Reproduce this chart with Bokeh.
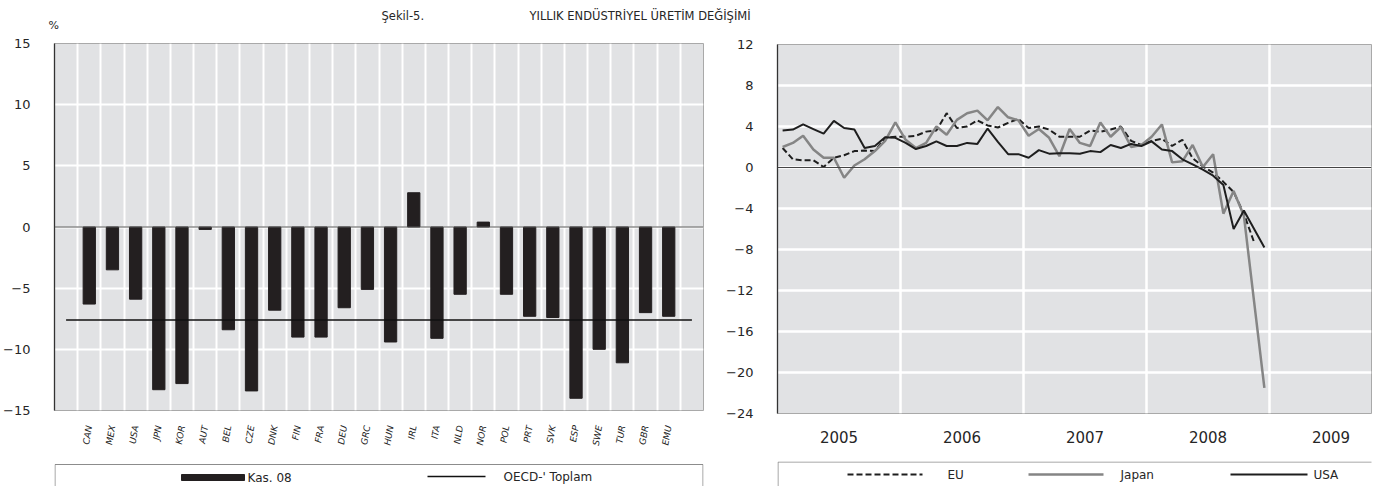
from bokeh.plotting import figure
from bokeh.layouts import column, row
from bokeh.models import Range1d, FixedTicker, Span, Label
from bokeh.core.properties import value
from bokeh.embed import file_html
from bokeh.resources import INLINE

# ---------------- data ----------------
countries = ["CAN", "MEX", "USA", "JPN", "KOR", "AUT", "BEL", "CZE", "DNK", "FIN",
             "FRA", "DEU", "GRC", "HUN", "IRL", "ITA", "NLD", "NOR", "POL", "PRT",
             "SVK", "ESP", "SWE", "TUR", "GBR", "EMU"]
nov08 = [-6.3, -3.5, -5.9, -13.3, -12.8, -0.2, -8.4, -13.4, -6.8, -9.0,
         -9.0, -6.6, -5.1, -9.4, 2.8, -9.1, -5.5, 0.4, -5.5, -7.3,
         -7.4, -14.0, -10.0, -11.1, -7.0, -7.3]
oecd_total = -7.6

years = [2005, 2006, 2007, 2008, 2009]
start_year = 2005
usa = [3.6, 3.7, 4.2, 3.75, 3.3, 4.55, 3.85, 3.7, 1.9, 2.1,
       2.95, 2.9, 2.4, 1.8, 2.1, 2.55, 2.1, 2.1, 2.4, 2.3,
       3.8, 2.5, 1.3, 1.3, 0.95, 1.7, 1.35, 1.4, 1.4, 1.35,
       1.6, 1.5, 2.2, 1.9, 2.3, 2.1, 2.55, 1.75, 1.6, 0.8,
       0.3, -0.2, -0.8, -1.7, -6.0, -4.2, -6.0, -7.8]
japan = [2.0, 2.4, 3.1, 1.75, 0.95, 0.95, -1.0, 0.2, 0.8, 1.6,
         2.6, 4.4, 2.7, 1.9, 2.4, 4.0, 3.2, 4.65, 5.3, 5.55,
         4.6, 5.9, 4.9, 4.6, 3.1, 3.75, 2.9, 1.1, 3.75, 2.4,
         2.1, 4.4, 3.0, 3.95, 2.0, 2.2, 3.0, 4.2, 0.5, 0.6,
         2.2, 0.05, 1.3, -4.5, -2.3, -4.7, -13.1, -21.5]
eu = [1.9, 0.8, 0.7, 0.7, 0.05, 0.95, 1.2, 1.6, 1.65, 1.6,
      2.9, 3.0, 3.0, 3.1, 3.5, 3.6, 5.3, 3.85, 4.0, 4.6,
      4.1, 3.9, 4.35, 4.75, 3.85, 4.0, 3.7, 3.0, 3.0, 3.0,
      3.6, 3.5, 3.7, 4.0, 2.6, 2.2, 2.6, 2.8, 2.1, 2.7,
      0.9, 0.1, -0.5, -1.4, -2.4, -4.5, -7.3]

left_yticks = [-15, -10, -5, 0, 5, 10, 15]
right_yticks = [-24, -20, -16, -12, -8, -4, 0, 4, 8, 12]

title_left = "Şekil-5."
title_main = "YILLIK ENDÜSTRİYEL ÜRETİM DEĞİŞİMİ"

# ---------------- style ----------------
FONT = "DejaVu Sans"
BG = "#e1e2e4"
BORDER = "#a9a9a9"
TXT = "#262626"


def month_x(n):
    return [start_year + (i + 0.5) / 12.0 for i in range(n)]


def style_axes(p):
    for ax in (p.xaxis, p.yaxis):
        ax.major_tick_line_color = None
        ax.minor_tick_line_color = None
        ax.major_tick_out = 0
        ax.major_tick_in = 0
        ax.minor_tick_out = 0
        ax.major_label_text_font = FONT
        ax.major_label_text_color = TXT


# ---------------- title strip ----------------
pt = figure(width=1379, height=34, x_range=Range1d(0, 1379), y_range=Range1d(34, 0),
            x_axis_type=None, y_axis_type=None, output_backend="svg",
            toolbar_location=None, min_border=0, outline_line_color=None)
pt.grid.visible = False
pt.text(x=[381], y=[15], text=[title_left], text_font=value(FONT), text_font_size="11.5px",
        text_baseline="middle", text_color=TXT)
pt.text(x=[529], y=[15], text=[title_main], text_font=value(FONT), text_font_size="11.5px",
        text_baseline="middle", text_color=TXT)
pt.text(x=[48], y=[25], text=["%"], text_font=value(FONT), text_font_size="11px",
        text_baseline="middle", text_color=TXT)

# ---------------- left chart ----------------
n = len(countries)
p1 = figure(width=713, height=429, x_range=Range1d(-0.5, n + 1.5), y_range=Range1d(-15, 15),
            output_backend="svg", toolbar_location=None,
            min_border_left=54, min_border_right=10, min_border_top=9, min_border_bottom=53,
            background_fill_color=BG, outline_line_color=BORDER, border_fill_color="white")
xs = list(range(1, n + 1))
p1.vbar(x=xs, top=nov08, bottom=0, width=0.53, fill_color="#231f20", line_color="#231f20")
p1.add_layout(Span(location=0, dimension="width", line_color="#555555", line_width=1))
p1.line(x=[0, n + 1], y=[oecd_total, oecd_total], line_color="#111111", line_width=1.6)

style_axes(p1)
p1.xaxis.ticker = FixedTicker(ticks=xs)
p1.xaxis.major_label_overrides = {x: c for x, c in zip(xs, countries)}
p1.xaxis.major_label_orientation = 1.4
p1.xaxis.major_label_text_font_style = "italic"
p1.xaxis.major_label_text_font_size = "9px"
p1.xaxis.major_label_standoff = 15
p1.xaxis.axis_line_color = None
p1.yaxis.ticker = FixedTicker(ticks=left_yticks)
p1.yaxis.major_label_text_font_size = "13px"
p1.yaxis.major_label_standoff = 24
p1.yaxis.axis_line_color = "#333333"
p1.yaxis.axis_line_width = 1.3
p1.xgrid.ticker = FixedTicker(ticks=[i + 0.5 for i in range(n + 1)])
p1.ygrid.ticker = FixedTicker(ticks=left_yticks)
p1.grid.grid_line_color = "white"
p1.grid.grid_line_width = 2

# ---------------- right chart ----------------
x_end = start_year + 594 / 123.0
p2 = figure(width=666, height=427, x_range=Range1d(start_year, x_end), y_range=Range1d(-24, 12),
            output_backend="svg", toolbar_location=None,
            min_border_left=64, min_border_right=8, min_border_top=10, min_border_bottom=48,
            background_fill_color=BG, outline_line_color=BORDER, border_fill_color="white")
p2.add_layout(Span(location=0, dimension="width", line_color="#444444", line_width=1))
p2.line(month_x(len(eu)), eu, line_color="#1e1e1e", line_width=2, line_dash="6 3")
p2.line(month_x(len(japan)), japan, line_color="#858585", line_width=2.5)
p2.line(month_x(len(usa)), usa, line_color="#1e1e1e", line_width=2)

style_axes(p2)
mid_years = [y + 0.5 for y in years]
p2.xaxis.ticker = FixedTicker(ticks=mid_years)
p2.xaxis.major_label_overrides = {m: str(y) for m, y in zip(mid_years, years)}
p2.xaxis.major_label_text_font_size = "15px"
p2.xaxis.major_label_standoff = 17
p2.xaxis.axis_line_color = None
p2.yaxis.ticker = FixedTicker(ticks=right_yticks)
p2.yaxis.major_label_text_font_size = "13px"
p2.yaxis.major_label_standoff = 24
p2.yaxis.axis_line_color = "#333333"
p2.yaxis.axis_line_width = 1.3
p2.xgrid.ticker = FixedTicker(ticks=years[1:])
p2.ygrid.ticker = FixedTicker(ticks=right_yticks)
p2.grid.grid_line_color = "white"
p2.grid.grid_line_width = 2.5
p2.add_layout(Label(x=start_year - 0.075, y=12.85, text="%", text_font=FONT,
                    text_font_size="8px", text_color=TXT, text_baseline="top"))

# ---------------- legends (frames align with the charts' frames; x in page pixels) ----------------
leg1 = figure(width=713, height=23, x_range=Range1d(54, 703), y_range=Range1d(23, 0),
              x_axis_type=None, y_axis_type=None, output_backend="svg",
              toolbar_location=None, min_border=0, outline_line_color=None)
leg1.grid.visible = False
leg1.quad(left=[54.5], right=[702.5], top=[1], bottom=[60], fill_color=None, line_color="#8c8c8c", line_width=1)
leg1.quad(left=[181], right=[244], top=[11], bottom=[17], fill_color="#231f20", line_color="#231f20")
leg1.text(x=[247], y=[14.5], text=["Kas. 08"], text_font=value(FONT), text_font_size="12px",
          text_baseline="middle", text_color=TXT)
leg1.line(x=[427, 485], y=[13, 13], line_color="#111111", line_width=1.6)
leg1.text(x=[503], y=[13], text=["OECD-' Toplam"], text_font=value(FONT), text_font_size="12px",
          text_baseline="middle", text_color=TXT)

leg2 = figure(width=666, height=25, x_range=Range1d(777, 1371), y_range=Range1d(25, 0),
              x_axis_type=None, y_axis_type=None, output_backend="svg",
              toolbar_location=None, min_border=0, outline_line_color=None)
leg2.grid.visible = False
leg2.quad(left=[777.5], right=[1378], top=[0.5], bottom=[60], fill_color=None, line_color="#8c8c8c", line_width=1)
leg2.line(x=[847, 922], y=[13, 13], line_color="#1e1e1e", line_width=2, line_dash="6 3")
leg2.text(x=[947], y=[13], text=["EU"], text_font=value(FONT), text_font_size="12px",
          text_baseline="middle", text_color=TXT)
leg2.line(x=[1028, 1103], y=[13, 13], line_color="#858585", line_width=2.5)
leg2.text(x=[1120], y=[13], text=["Japan"], text_font=value(FONT), text_font_size="12px",
          text_baseline="middle", text_color=TXT)
leg2.line(x=[1230, 1307], y=[13, 13], line_color="#1e1e1e", line_width=2)
leg2.text(x=[1313], y=[13], text=["USA"], text_font=value(FONT), text_font_size="12px",
          text_baseline="middle", text_color=TXT)

layout = column(pt, row(column(p1, leg1), column(p2, leg2)))
open("out.html", "w").write(file_html(layout, INLINE))
